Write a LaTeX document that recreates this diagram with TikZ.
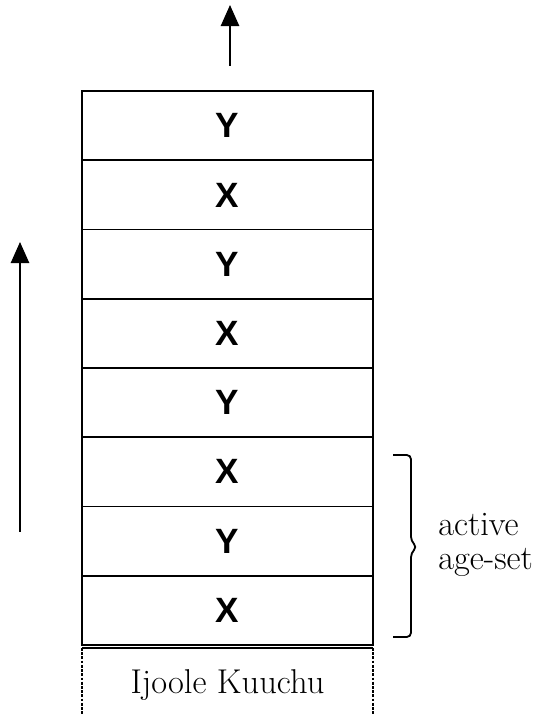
\documentclass[tikz,border=0pt]{standalone}
\usepackage{fontspec}
\newfontfamily\rowfont{Liberation Sans}
\usetikzlibrary{arrows.meta}
\tikzset{
  agerow/.style={draw,line width=1.3pt,minimum width=7.275cm,minimum height=1.731cm,
    inner sep=0pt,font=\rowfont\bfseries\fontsize{25}{25}\selectfont},
  upline/.style={line width=1.4pt,-{Triangle[width=13pt,length=15pt]}},
  serif/.style={font=\fontsize{24.5}{24}\selectfont}
}
\begin{document}
\begin{tikzpicture}
\useasboundingbox (0,0) rectangle (13.55,17.875);
% the stack of sets, oldest on top
\foreach \k/\lab in {1/X,2/Y,3/X,4/Y,5/X,6/Y,7/X,8/Y}
  \node[agerow] (row\k) at (5.6875,{1.75+1.731*(\k-.5)}) {\lab};
% the open box below
\node[serif,anchor=base] (kuuchu) at (5.6875,0.525) {Ijoole Kuuchu};
\draw[line width=1.3pt] (2.05,1.675) -- (9.325,1.675);
\draw[line width=1.5pt,dash pattern=on 2pt off 1pt] (2.05,1.675) -- (2.05,-0.3) (9.325,1.675) -- (9.325,-0.3);
% arrows
\coordinate (topfoot) at (5.75,16.225);
\coordinate (toptip) at (5.75,17.75);
\draw[upline] (topfoot) -- (toptip);
\coordinate (leftfoot) at (0.5,4.575);
\coordinate (lefttip) at (0.5,11.825);
\draw[upline] (leftfoot) -- (lefttip);
% brace
\draw[line width=1.3pt,rounded corners=3pt] (9.825,6.5) -- (10.275,6.5) -- (10.275,4.35)
  -- (10.425,4.2) -- (10.275,4.05) -- (10.275,1.95) -- (9.825,1.95);
\node[serif,align=left,anchor=west,inner sep=0pt] (activeset) at (10.95,4.25) {active\\age-set};
\end{tikzpicture}
\end{document}
